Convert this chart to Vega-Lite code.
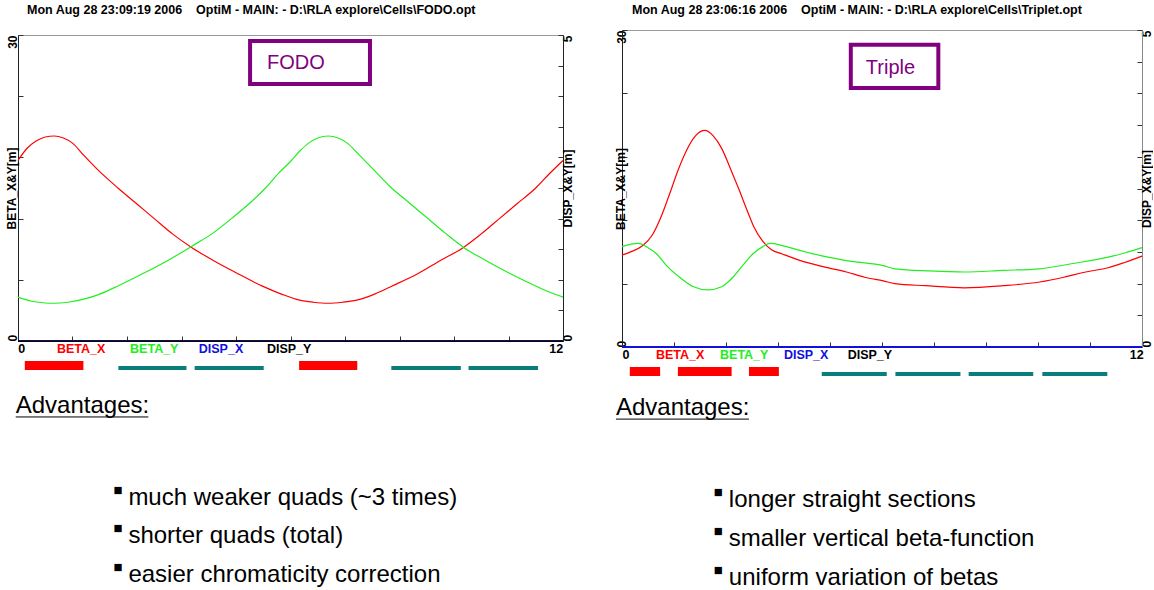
{
  "$schema": "https://vega.github.io/schema/vega-lite/v6.json",
  "padding": {"left": 4, "top": 3, "right": 0, "bottom": 0},
  "background": "white",
  "spacing": 39,
  "config": {"font": "Liberation Sans", "view": {"stroke": "#999999"}, "concat": {"spacing": 0}},
  "datasets": {
    "fodo_beta": [
      {"s": 0, "beta": 17.7, "series": "BETA_X"}, {"s": 0.2, "beta": 18.9, "series": "BETA_X"}, {"s": 0.4, "beta": 19.6, "series": "BETA_X"}, {"s": 0.6, "beta": 20.0, "series": "BETA_X"}, {"s": 0.8, "beta": 20.1, "series": "BETA_X"}, {"s": 1.0, "beta": 19.9, "series": "BETA_X"}, {"s": 1.2, "beta": 19.4, "series": "BETA_X"}, {"s": 1.45, "beta": 18.2, "series": "BETA_X"}, {"s": 1.8, "beta": 16.6, "series": "BETA_X"}, {"s": 2.2, "beta": 15.0, "series": "BETA_X"}, {"s": 2.6, "beta": 13.5, "series": "BETA_X"}, {"s": 3.0, "beta": 12.0, "series": "BETA_X"}, {"s": 3.4, "beta": 10.5, "series": "BETA_X"}, {"s": 3.83, "beta": 9.15, "series": "BETA_X"}, {"s": 4.3, "beta": 7.9, "series": "BETA_X"}, {"s": 4.8, "beta": 6.7, "series": "BETA_X"}, {"s": 5.37, "beta": 5.4, "series": "BETA_X"}, {"s": 5.8, "beta": 4.6, "series": "BETA_X"}, {"s": 6.2, "beta": 4.0, "series": "BETA_X"}, {"s": 6.5, "beta": 3.8, "series": "BETA_X"}, {"s": 6.83, "beta": 3.7, "series": "BETA_X"}, {"s": 7.15, "beta": 3.8, "series": "BETA_X"}, {"s": 7.5, "beta": 4.05, "series": "BETA_X"}, {"s": 7.85, "beta": 4.6, "series": "BETA_X"}, {"s": 8.24, "beta": 5.4, "series": "BETA_X"}, {"s": 8.8, "beta": 6.6, "series": "BETA_X"}, {"s": 9.3, "beta": 7.9, "series": "BETA_X"}, {"s": 9.8, "beta": 9.15, "series": "BETA_X"}, {"s": 10.2, "beta": 10.5, "series": "BETA_X"}, {"s": 10.6, "beta": 12.0, "series": "BETA_X"}, {"s": 11.0, "beta": 13.5, "series": "BETA_X"}, {"s": 11.4, "beta": 15.0, "series": "BETA_X"}, {"s": 11.7, "beta": 16.4, "series": "BETA_X"}, {"s": 12.0, "beta": 17.7, "series": "BETA_X"},
      {"s": 0, "beta": 4.3, "series": "BETA_Y"}, {"s": 0.3, "beta": 3.9, "series": "BETA_Y"}, {"s": 0.55, "beta": 3.75, "series": "BETA_Y"}, {"s": 0.8, "beta": 3.7, "series": "BETA_Y"}, {"s": 1.1, "beta": 3.8, "series": "BETA_Y"}, {"s": 1.45, "beta": 4.1, "series": "BETA_Y"}, {"s": 1.8, "beta": 4.6, "series": "BETA_Y"}, {"s": 2.2, "beta": 5.4, "series": "BETA_Y"}, {"s": 2.7, "beta": 6.5, "series": "BETA_Y"}, {"s": 3.3, "beta": 7.9, "series": "BETA_Y"}, {"s": 3.83, "beta": 9.3, "series": "BETA_Y"}, {"s": 4.3, "beta": 10.6, "series": "BETA_Y"}, {"s": 4.7, "beta": 12.0, "series": "BETA_Y"}, {"s": 5.1, "beta": 13.5, "series": "BETA_Y"}, {"s": 5.45, "beta": 15.0, "series": "BETA_Y"}, {"s": 5.75, "beta": 16.5, "series": "BETA_Y"}, {"s": 6.0, "beta": 17.6, "series": "BETA_Y"}, {"s": 6.2, "beta": 18.6, "series": "BETA_Y"}, {"s": 6.4, "beta": 19.4, "series": "BETA_Y"}, {"s": 6.6, "beta": 19.9, "series": "BETA_Y"}, {"s": 6.83, "beta": 20.1, "series": "BETA_Y"}, {"s": 7.05, "beta": 19.9, "series": "BETA_Y"}, {"s": 7.25, "beta": 19.4, "series": "BETA_Y"}, {"s": 7.5, "beta": 18.3, "series": "BETA_Y"}, {"s": 7.85, "beta": 16.7, "series": "BETA_Y"}, {"s": 8.2, "beta": 15.1, "series": "BETA_Y"}, {"s": 8.6, "beta": 13.6, "series": "BETA_Y"}, {"s": 9.0, "beta": 12.1, "series": "BETA_Y"}, {"s": 9.4, "beta": 10.6, "series": "BETA_Y"}, {"s": 9.82, "beta": 9.15, "series": "BETA_Y"}, {"s": 10.3, "beta": 7.9, "series": "BETA_Y"}, {"s": 10.8, "beta": 6.7, "series": "BETA_Y"}, {"s": 11.4, "beta": 5.4, "series": "BETA_Y"}, {"s": 11.7, "beta": 4.8, "series": "BETA_Y"}, {"s": 12.0, "beta": 4.3, "series": "BETA_Y"}
    ],
    "trip_beta": [
      {"s": 0, "beta": 8.7, "series": "BETA_X"}, {"s": 0.2, "beta": 9.0, "series": "BETA_X"}, {"s": 0.48, "beta": 9.6, "series": "BETA_X"}, {"s": 0.7, "beta": 10.6, "series": "BETA_X"}, {"s": 0.9, "beta": 12.3, "series": "BETA_X"}, {"s": 1.1, "beta": 14.5, "series": "BETA_X"}, {"s": 1.3, "beta": 16.8, "series": "BETA_X"}, {"s": 1.5, "beta": 18.7, "series": "BETA_X"}, {"s": 1.7, "beta": 20.0, "series": "BETA_X"}, {"s": 1.91, "beta": 20.5, "series": "BETA_X"}, {"s": 2.1, "beta": 20.0, "series": "BETA_X"}, {"s": 2.3, "beta": 18.8, "series": "BETA_X"}, {"s": 2.5, "beta": 16.9, "series": "BETA_X"}, {"s": 2.7, "beta": 14.9, "series": "BETA_X"}, {"s": 2.9, "beta": 12.8, "series": "BETA_X"}, {"s": 3.05, "beta": 11.3, "series": "BETA_X"}, {"s": 3.25, "beta": 10.0, "series": "BETA_X"}, {"s": 3.45, "beta": 9.2, "series": "BETA_X"}, {"s": 3.7, "beta": 8.8, "series": "BETA_X"}, {"s": 4.1, "beta": 8.2, "series": "BETA_X"}, {"s": 4.64, "beta": 7.6, "series": "BETA_X"}, {"s": 5.18, "beta": 7.1, "series": "BETA_X"}, {"s": 5.6, "beta": 6.6, "series": "BETA_X"}, {"s": 6.03, "beta": 6.25, "series": "BETA_X"}, {"s": 6.3, "beta": 6.0, "series": "BETA_X"}, {"s": 7.0, "beta": 5.8, "series": "BETA_X"}, {"s": 7.9, "beta": 5.6, "series": "BETA_X"}, {"s": 8.8, "beta": 5.8, "series": "BETA_X"}, {"s": 9.64, "beta": 6.15, "series": "BETA_X"}, {"s": 10.2, "beta": 6.6, "series": "BETA_X"}, {"s": 10.7, "beta": 7.1, "series": "BETA_X"}, {"s": 11.22, "beta": 7.5, "series": "BETA_X"}, {"s": 11.6, "beta": 8.0, "series": "BETA_X"}, {"s": 12, "beta": 8.6, "series": "BETA_X"},
      {"s": 0, "beta": 9.5, "series": "BETA_Y"}, {"s": 0.37, "beta": 9.8, "series": "BETA_Y"}, {"s": 0.6, "beta": 9.4, "series": "BETA_Y"}, {"s": 0.79, "beta": 8.85, "series": "BETA_Y"}, {"s": 1.05, "beta": 7.6, "series": "BETA_Y"}, {"s": 1.33, "beta": 6.6, "series": "BETA_Y"}, {"s": 1.65, "beta": 5.7, "series": "BETA_Y"}, {"s": 1.98, "beta": 5.4, "series": "BETA_Y"}, {"s": 2.3, "beta": 5.7, "series": "BETA_Y"}, {"s": 2.56, "beta": 6.6, "series": "BETA_Y"}, {"s": 2.8, "beta": 7.8, "series": "BETA_Y"}, {"s": 3.03, "beta": 8.85, "series": "BETA_Y"}, {"s": 3.25, "beta": 9.5, "series": "BETA_Y"}, {"s": 3.42, "beta": 9.8, "series": "BETA_Y"}, {"s": 3.7, "beta": 9.6, "series": "BETA_Y"}, {"s": 4.1, "beta": 9.15, "series": "BETA_Y"}, {"s": 4.64, "beta": 8.6, "series": "BETA_Y"}, {"s": 5.3, "beta": 8.1, "series": "BETA_Y"}, {"s": 6.03, "beta": 7.7, "series": "BETA_Y"}, {"s": 6.3, "beta": 7.4, "series": "BETA_Y"}, {"s": 7.1, "beta": 7.2, "series": "BETA_Y"}, {"s": 7.9, "beta": 7.1, "series": "BETA_Y"}, {"s": 8.8, "beta": 7.25, "series": "BETA_Y"}, {"s": 9.64, "beta": 7.4, "series": "BETA_Y"}, {"s": 10.4, "beta": 7.9, "series": "BETA_Y"}, {"s": 11.22, "beta": 8.5, "series": "BETA_Y"}, {"s": 11.6, "beta": 8.9, "series": "BETA_Y"}, {"s": 12, "beta": 9.4, "series": "BETA_Y"}
    ],
    "fodo_disp": [
      {"s": 0, "disp": 0, "series": "DISP_X"}, {"s": 12, "disp": 0, "series": "DISP_X"}, {"s": 0, "disp": 0, "series": "DISP_Y"}, {"s": 12, "disp": 0, "series": "DISP_Y"}
    ],
    "trip_disp": [
      {"s": 0, "disp": 0, "series": "DISP_X"}, {"s": 12, "disp": 0, "series": "DISP_X"}
    ],
    "fodo_box": [{"x1": 5.11, "x2": 7.75, "y1": 29.4, "y2": 25.2, "label": "FODO"}],
    "trip_box": [{"x1": 5.28, "x2": 7.3, "y1": 28.6, "y2": 24.5, "label": "Triple"}],
    "fodo_legend": [
      {"s": 0.08, "label": "0", "series": "axis"}, {"s": 1.39, "label": "BETA_X", "series": "BETA_X"}, {"s": 3.0, "label": "BETA_Y", "series": "BETA_Y"}, {"s": 4.47, "label": "DISP_X", "series": "DISP_X"}, {"s": 5.97, "label": "DISP_Y", "series": "DISP_Y"}, {"s": 11.85, "label": "12", "series": "axis"}
    ],
    "trip_legend": [
      {"s": 0.09, "label": "0", "series": "axis"}, {"s": 1.34, "label": "BETA_X", "series": "BETA_X"}, {"s": 2.82, "label": "BETA_Y", "series": "BETA_Y"}, {"s": 4.25, "label": "DISP_X", "series": "DISP_X"}, {"s": 5.72, "label": "DISP_Y", "series": "DISP_Y"}, {"s": 11.88, "label": "12", "series": "axis"}
    ],
    "fodo_elements": [
      {"type": "quad", "start": 0.15, "end": 1.44}, {"type": "dipole", "start": 2.21, "end": 3.71}, {"type": "dipole", "start": 3.89, "end": 5.41}, {"type": "quad", "start": 6.19, "end": 7.47}, {"type": "dipole", "start": 8.22, "end": 9.75}, {"type": "dipole", "start": 9.92, "end": 11.45}
    ],
    "trip_elements": [
      {"type": "quad", "start": 0.18, "end": 0.88}, {"type": "quad", "start": 1.29, "end": 2.53}, {"type": "quad", "start": 2.93, "end": 3.62}, {"type": "dipole", "start": 4.61, "end": 6.11}, {"type": "dipole", "start": 6.31, "end": 7.81}, {"type": "dipole", "start": 8.0, "end": 9.49}, {"type": "dipole", "start": 9.7, "end": 11.2}
    ],
    "fodo_head": [{"text": "Advantages:", "line": 0.75}],
    "trip_head": [{"text": "Advantages:", "line": 0.65}],
    "fodo_bullets": [
      {"text": "much weaker quads (~3 times)", "line": 3.15}, {"text": "shorter quads (total)", "line": 4.15}, {"text": "easier chromaticity correction", "line": 5.15}
    ],
    "trip_bullets": [
      {"text": "longer straight sections", "line": 3.05}, {"text": "smaller vertical beta-function", "line": 4.06}, {"text": "uniform variation of betas", "line": 5.08}
    ],
    "none": []
  },
  "hconcat": [
    {
      "bounds": "flush",
      "vconcat": [
        {
          "width": 545, "height": 16.5,
          "view": {"stroke": null},
          "title": {"text": "Mon Aug 28 23:09:19 2006\u00a0\u00a0\u00a0\u00a0OptiM - MAIN: - D:\\RLA explore\\Cells\\FODO.opt", "anchor": "start", "frame": "group", "fontSize": 12.5, "fontWeight": "bold", "color": "black", "offset": 2, "dx": 9},
          "data": {"name": "none"},
          "mark": "point"
        },
        {
          "width": 545, "height": 306,
          "layer": [
            {
              "layer": [
                {
                  "data": {"name": "fodo_beta"},
                  "mark": {"type": "line", "strokeWidth": 1.2, "interpolate": "monotone"},
                  "encoding": {
                    "x": {"field": "s", "type": "quantitative", "scale": {"domain": [0, 12], "nice": false, "zero": false},
                      "axis": {"values": [0, 1.2, 2.4, 3.6, 4.8, 6, 7.2, 8.4, 9.6, 10.8, 12], "labels": false, "title": null, "grid": false, "tickSize": -5, "tickColor": "#333333", "domainColor": "#222222"}},
                    "y": {"field": "beta", "type": "quantitative", "scale": {"domain": [0, 30], "nice": false},
                      "axis": {"values": [0, 3, 6, 9, 12, 15, 18, 21, 24, 27, 30], "labelExpr": "datum.value == 0 || datum.value == 30 ? datum.label : ''", "labelAngle": 270, "labelAlign": {"condition": {"test": "datum.value == 0", "value": "left"}, "value": "right"}, "labelFontSize": 12, "labelFontWeight": "bold", "labelColor": "black", "labelPadding": 4, "tickSize": -5, "tickColor": "#333333", "domainColor": "#222222", "grid": false, "title": "BETA_X&Y[m]", "titleFontSize": 12, "titleFontWeight": "bold", "titleColor": "black", "titlePadding": -12}},
                    "color": {"field": "series", "type": "nominal", "scale": {"domain": ["BETA_X", "BETA_Y", "DISP_X", "DISP_Y", "axis"], "range": ["#ff0000", "#22ee22", "#1010e0", "#000000", "#000000"]}, "legend": null}
                  }
                },
                {
                  "data": {"name": "fodo_box"},
                  "mark": {"type": "rect", "fill": "white", "stroke": "#800080", "strokeWidth": 4},
                  "encoding": {"x": {"field": "x1", "type": "quantitative"}, "x2": {"field": "x2"}, "y": {"field": "y1", "type": "quantitative"}, "y2": {"field": "y2"}}
                },
                {
                  "data": {"name": "fodo_box"},
                  "mark": {"type": "text", "align": "left", "baseline": "middle", "fontSize": 20, "color": "#800080", "dx": 17, "dy": 22},
                  "encoding": {"x": {"field": "x1", "type": "quantitative"}, "y": {"field": "y1", "type": "quantitative"}, "text": {"field": "label"}}
                }
              ]
            },
            {
              "data": {"name": "fodo_disp"},
              "mark": {"type": "line", "strokeWidth": 1.5},
              "encoding": {
                "x": {"field": "s", "type": "quantitative"},
                "y": {"field": "disp", "type": "quantitative", "scale": {"domain": [0, 5], "nice": false},
                  "axis": {"orient": "right", "values": [0, 0.5, 1, 1.5, 2, 2.5, 3, 3.5, 4, 4.5, 5], "labelExpr": "datum.value == 0 ? '0' : datum.value == 5 ? '5' : ''", "labelAngle": 270, "labelAlign": {"condition": {"test": "datum.value == 0", "value": "left"}, "value": "right"}, "labelFontSize": 12, "labelFontWeight": "bold", "labelColor": "black", "labelPadding": 4, "tickSize": -5, "tickColor": "#333333", "domainColor": "#222222", "grid": false, "title": "DISP_X&Y[m]", "titleAngle": 270, "titleFontSize": 12, "titleFontWeight": "bold", "titleColor": "black", "titlePadding": 1}},
                "color": {"field": "series", "type": "nominal", "scale": {"domain": ["BETA_X", "BETA_Y", "DISP_X", "DISP_Y", "axis"], "range": ["#ff0000", "#22ee22", "#1010e0", "#000000", "#000000"]}, "legend": null}
              }
            }
          ],
          "resolve": {"scale": {"y": "independent"}}
        },
        {
          "width": 545, "height": 36,
          "view": {"stroke": null},
          "layer": [
            {
              "data": {"name": "fodo_legend"},
              "mark": {"type": "text", "fontSize": 12.5, "fontWeight": "bold", "baseline": "middle"},
              "encoding": {
                "x": {"field": "s", "type": "quantitative", "scale": {"domain": [0, 12], "nice": false, "zero": false}, "axis": null},
                "y": {"datum": 8, "type": "quantitative", "scale": {"domain": [0, 36], "reverse": true, "nice": false, "zero": false}, "axis": null},
                "text": {"field": "label"},
                "color": {"field": "series", "type": "nominal", "scale": {"domain": ["BETA_X", "BETA_Y", "DISP_X", "DISP_Y", "axis"], "range": ["#ff0000", "#22ee22", "#1010e0", "#000000", "#000000"]}, "legend": null}
              }
            },
            {
              "data": {"name": "fodo_elements"},
              "transform": [{"filter": "datum.type == 'quad'"}],
              "mark": {"type": "rect", "color": "#ff0000"},
              "encoding": {
                "x": {"field": "start", "type": "quantitative"}, "x2": {"field": "end"},
                "y": {"datum": 20, "type": "quantitative"}, "y2": {"datum": 29}
              }
            },
            {
              "data": {"name": "fodo_elements"},
              "transform": [{"filter": "datum.type == 'dipole'"}],
              "mark": {"type": "rect", "color": "#0a7d7d"},
              "encoding": {
                "x": {"field": "start", "type": "quantitative"}, "x2": {"field": "end"},
                "y": {"datum": 25, "type": "quantitative"}, "y2": {"datum": 29}
              }
            }
          ]
        },
        {
          "width": 545, "height": 214,
          "view": {"stroke": null},
          "layer": [
            {
              "data": {"name": "fodo_head"},
              "mark": {"type": "text", "fontSize": 24, "align": "left", "baseline": "middle", "color": "black"},
              "encoding": {
                "x": {"datum": -0.05, "type": "quantitative", "scale": {"domain": [0, 12], "nice": false, "zero": false}, "axis": null},
                "y": {"field": "line", "type": "quantitative", "scale": {"domain": [0, 5.57], "reverse": true, "nice": false, "zero": false}, "axis": null},
                "text": {"field": "text"}
              }
            },
            {
              "data": {"name": "fodo_head"},
              "mark": {"type": "rule", "color": "black", "strokeWidth": 1},
              "encoding": {"x": {"datum": -0.05, "type": "quantitative"}, "x2": {"datum": 2.87}, "y": {"datum": 1.04, "type": "quantitative"}}
            },
            {
              "data": {"name": "fodo_bullets"},
              "mark": {"type": "text", "text": "■", "fontSize": 15, "align": "left", "baseline": "middle", "color": "black", "dy": -8},
              "encoding": {"x": {"datum": 2.1, "type": "quantitative"}, "y": {"field": "line", "type": "quantitative"}}
            },
            {
              "data": {"name": "fodo_bullets"},
              "mark": {"type": "text", "fontSize": 24, "align": "left", "baseline": "middle", "color": "black", "dx": 15},
              "encoding": {"x": {"datum": 2.1, "type": "quantitative"}, "y": {"field": "line", "type": "quantitative"}, "text": {"field": "text"}}
            }
          ]
        }
      ]
    },
    {
      "bounds": "flush",
      "vconcat": [
        {
          "width": 520, "height": 11.5,
          "view": {"stroke": null},
          "title": {"text": "Mon Aug 28 23:06:16 2006\u00a0\u00a0\u00a0\u00a0OptiM - MAIN: - D:\\RLA explore\\Cells\\Triplet.opt", "anchor": "start", "frame": "group", "fontSize": 12.5, "fontWeight": "bold", "color": "black", "offset": 2, "dx": 10},
          "data": {"name": "none"},
          "mark": "point"
        },
        {
          "width": 520, "height": 317,
          "layer": [
            {
              "layer": [
                {
                  "data": {"name": "trip_beta"},
                  "mark": {"type": "line", "strokeWidth": 1.2, "interpolate": "monotone"},
                  "encoding": {
                    "x": {"field": "s", "type": "quantitative", "scale": {"domain": [0, 12], "nice": false, "zero": false},
                      "axis": {"values": [0, 1.2, 2.4, 3.6, 4.8, 6, 7.2, 8.4, 9.6, 10.8, 12], "labels": false, "title": null, "grid": false, "tickSize": -5, "tickColor": "#333333", "domainColor": "#222222"}},
                    "y": {"field": "beta", "type": "quantitative", "scale": {"domain": [0, 30], "nice": false},
                      "axis": {"values": [0, 3, 6, 9, 12, 15, 18, 21, 24, 27, 30], "labelExpr": "datum.value == 0 || datum.value == 30 ? datum.label : ''", "labelAngle": 270, "labelAlign": {"condition": {"test": "datum.value == 0", "value": "left"}, "value": "right"}, "labelFontSize": 12, "labelFontWeight": "bold", "labelColor": "black", "labelPadding": -1, "tickSize": -5, "tickColor": "#333333", "domainColor": "#222222", "grid": false, "title": "BETA_X&Y[m]", "titleFontSize": 12, "titleFontWeight": "bold", "titleColor": "black", "titlePadding": -12}},
                    "color": {"field": "series", "type": "nominal", "scale": {"domain": ["BETA_X", "BETA_Y", "DISP_X", "DISP_Y", "axis"], "range": ["#ff0000", "#22ee22", "#1010e0", "#000000", "#000000"]}, "legend": null}
                  }
                },
                {
                  "data": {"name": "trip_box"},
                  "mark": {"type": "rect", "fill": "white", "stroke": "#800080", "strokeWidth": 4},
                  "encoding": {"x": {"field": "x1", "type": "quantitative"}, "x2": {"field": "x2"}, "y": {"field": "y1", "type": "quantitative"}, "y2": {"field": "y2"}}
                },
                {
                  "data": {"name": "trip_box"},
                  "mark": {"type": "text", "align": "left", "baseline": "middle", "fontSize": 20, "color": "#800080", "dx": 15, "dy": 23},
                  "encoding": {"x": {"field": "x1", "type": "quantitative"}, "y": {"field": "y1", "type": "quantitative"}, "text": {"field": "label"}}
                }
              ]
            },
            {
              "data": {"name": "trip_disp"},
              "mark": {"type": "line", "strokeWidth": 2},
              "encoding": {
                "x": {"field": "s", "type": "quantitative"},
                "y": {"field": "disp", "type": "quantitative", "scale": {"domain": [0, 5], "nice": false},
                  "axis": {"orient": "right", "values": [0, 0.5, 1, 1.5, 2, 2.5, 3, 3.5, 4, 4.5, 5], "labelExpr": "datum.value == 0 ? '0' : datum.value == 5 ? '5' : ''", "labelAngle": 270, "labelAlign": {"condition": {"test": "datum.value == 0", "value": "left"}, "value": "right"}, "labelFontSize": 12, "labelFontWeight": "bold", "labelColor": "black", "labelPadding": 4, "tickSize": -5, "tickColor": "#333333", "domainColor": "#888888", "grid": false, "title": "DISP_X&Y[m]", "titleAngle": 270, "titleFontSize": 12, "titleFontWeight": "bold", "titleColor": "black", "titlePadding": 1}},
                "color": {"field": "series", "type": "nominal", "scale": {"domain": ["BETA_X", "BETA_Y", "DISP_X", "DISP_Y", "axis"], "range": ["#ff0000", "#22ee22", "#1010e0", "#000000", "#000000"]}, "legend": null}
              }
            }
          ],
          "resolve": {"scale": {"y": "independent"}}
        },
        {
          "width": 520, "height": 36,
          "view": {"stroke": null},
          "layer": [
            {
              "data": {"name": "trip_legend"},
              "mark": {"type": "text", "fontSize": 12.5, "fontWeight": "bold", "baseline": "middle"},
              "encoding": {
                "x": {"field": "s", "type": "quantitative", "scale": {"domain": [0, 12], "nice": false, "zero": false}, "axis": null},
                "y": {"datum": 8, "type": "quantitative", "scale": {"domain": [0, 36], "reverse": true, "nice": false, "zero": false}, "axis": null},
                "text": {"field": "label"},
                "color": {"field": "series", "type": "nominal", "scale": {"domain": ["BETA_X", "BETA_Y", "DISP_X", "DISP_Y", "axis"], "range": ["#ff0000", "#22ee22", "#1010e0", "#000000", "#000000"]}, "legend": null}
              }
            },
            {
              "data": {"name": "trip_elements"},
              "transform": [{"filter": "datum.type == 'quad'"}],
              "mark": {"type": "rect", "color": "#ff0000"},
              "encoding": {
                "x": {"field": "start", "type": "quantitative"}, "x2": {"field": "end"},
                "y": {"datum": 20, "type": "quantitative"}, "y2": {"datum": 29}
              }
            },
            {
              "data": {"name": "trip_elements"},
              "transform": [{"filter": "datum.type == 'dipole'"}],
              "mark": {"type": "rect", "color": "#0a7d7d"},
              "encoding": {
                "x": {"field": "start", "type": "quantitative"}, "x2": {"field": "end"},
                "y": {"datum": 25, "type": "quantitative"}, "y2": {"datum": 29}
              }
            }
          ]
        },
        {
          "width": 520, "height": 207,
          "view": {"stroke": null},
          "layer": [
            {
              "data": {"name": "trip_head"},
              "mark": {"type": "text", "fontSize": 24, "align": "left", "baseline": "middle", "color": "black"},
              "encoding": {
                "x": {"datum": -0.14, "type": "quantitative", "scale": {"domain": [0, 12], "nice": false, "zero": false}, "axis": null},
                "y": {"field": "line", "type": "quantitative", "scale": {"domain": [0, 5.39], "reverse": true, "nice": false, "zero": false}, "axis": null},
                "text": {"field": "text"}
              }
            },
            {
              "data": {"name": "trip_head"},
              "mark": {"type": "rule", "color": "black", "strokeWidth": 1},
              "encoding": {"x": {"datum": -0.14, "type": "quantitative"}, "x2": {"datum": 2.93}, "y": {"datum": 0.94, "type": "quantitative"}}
            },
            {
              "data": {"name": "trip_bullets"},
              "mark": {"type": "text", "text": "■", "fontSize": 15, "align": "left", "baseline": "middle", "color": "black", "dy": -8},
              "encoding": {"x": {"datum": 2.12, "type": "quantitative"}, "y": {"field": "line", "type": "quantitative"}}
            },
            {
              "data": {"name": "trip_bullets"},
              "mark": {"type": "text", "fontSize": 24, "align": "left", "baseline": "middle", "color": "black", "dx": 15},
              "encoding": {"x": {"datum": 2.12, "type": "quantitative"}, "y": {"field": "line", "type": "quantitative"}, "text": {"field": "text"}}
            }
          ]
        }
      ]
    }
  ]
}
